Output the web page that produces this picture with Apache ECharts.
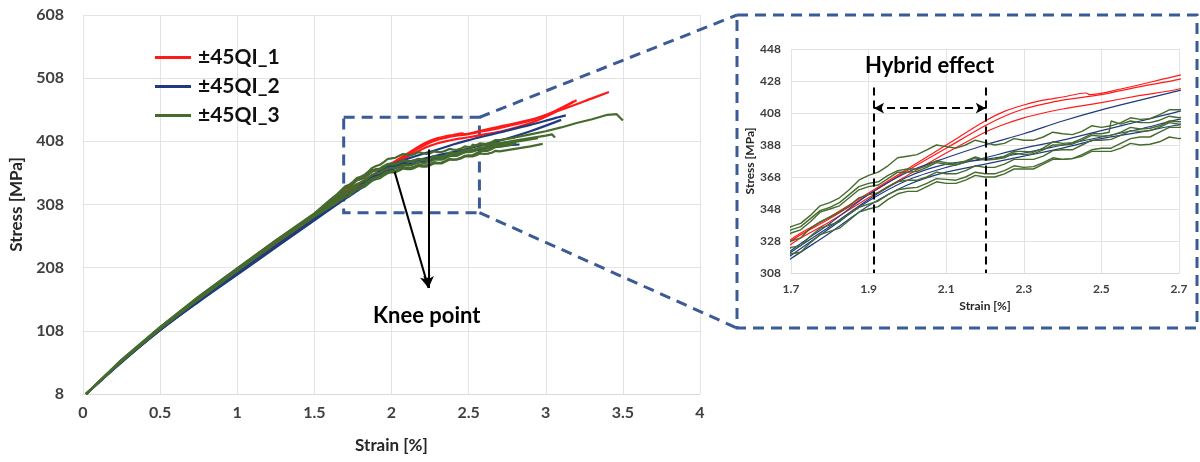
<!DOCTYPE html>
<html>
<head>
<meta charset="utf-8">
<title>Stress - strain</title>
<script src="https://cdn.jsdelivr.net/npm/echarts@6/dist/echarts.min.js"></script>
<style>
  html, body {margin: 0; padding: 0; background: #fff;}
  #chart {width: 1200px; height: 462px;}
</style>
</head>
<body>
<div id="chart"></div>
<script>
var seriesNames = ['±45QI_1', '±45QI_2', '±45QI_3'];
var mainStressTicks = [8, 108, 208, 308, 408, 508, 608];
var zoomStrainTicks = [1.7, 1.9, 2.1, 2.3, 2.5, 2.7];
var zoomStressTicks = [308, 328, 348, 368, 388, 408, 428, 448];

// [strain %, stress MPa] per specimen
var qi1Curves = [
  [[0.02,8],[0.25,60],[0.5,112],[0.75,159],[1.0,203],[1.25,247],[1.5,289],[1.7,329],[1.8,343],[1.9,358],[2.0,373],[2.1,388],[2.2,403],[2.25,409],[2.3,413],[2.35,416],[2.4,418],[2.46,420.5],[2.47,419.5],[2.55,423],[2.7,431.5],[2.9,442],[3.1,458],[3.3,476],[3.41,486]],
  [[0.02,8],[0.25,60],[0.5,111],[0.75,158],[1.0,202],[1.25,246],[1.5,288],[1.7,328],[1.8,342],[1.9,357],[2.0,372],[2.1,386],[2.2,400],[2.25,406],[2.3,410.5],[2.35,413.5],[2.4,416],[2.5,419.5],[2.6,424.5],[2.7,429],[2.9,441],[3.05,455],[3.2,473]],
  [[0.02,8],[0.25,59],[0.5,111],[0.75,158],[1.0,202],[1.25,245],[1.5,287],[1.7,326],[1.8,340],[1.9,355],[2.0,369],[2.1,383],[2.2,396],[2.25,401],[2.3,405],[2.35,408],[2.4,410.5],[2.5,414.5],[2.6,419],[2.7,423],[2.9,437],[3.05,453],[3.18,471]]
];
var qi2Curves = [
  [[0.02,8],[0.25,59],[0.5,110],[0.75,156],[1.0,199],[1.25,242],[1.5,285],[1.7,322],[1.8,339],[1.9,357],[2.0,371],[2.1,380],[2.2,388],[2.3,395],[2.4,403],[2.5,410],[2.6,416],[2.7,422],[2.9,434],[3.05,444],[3.13,449]],
  [[0.02,8],[0.25,59],[0.5,109],[0.75,155],[1.0,198],[1.25,241],[1.5,284],[1.7,319],[1.8,336],[1.9,353],[2.0,366],[2.1,374],[2.2,380],[2.3,386],[2.4,391],[2.5,397],[2.6,403],[2.7,409],[2.9,424],[3.1,442]],
  [[0.02,8],[0.25,58],[0.5,109],[0.75,154],[1.0,197],[1.25,240],[1.5,283],[1.7,317],[1.8,333],[1.9,350],[2.0,363],[2.1,371],[2.2,376],[2.3,381],[2.4,386],[2.5,392],[2.6,396],[2.7,400.5],[2.83,403]],
  [[0.02,8],[0.25,59],[0.5,110],[0.75,156],[1.0,199],[1.25,242],[1.5,285],[1.7,321],[1.8,337],[1.9,354],[2.0,368],[2.1,376],[2.2,379],[2.3,383],[2.4,388],[2.5,393],[2.6,398],[2.7,404],[2.78,407]]
];
var qi3Curves = [
  [[0.02,8],[0.25,62],[0.5,114],[0.75,162],[1.0,207],[1.25,251],[1.5,294],[1.6,315],[1.65,325],[1.7,337],[1.725,339],[1.75,344],[1.775,350],[1.8,352],[1.825,355],[1.85,360],[1.875,366],[1.9,369],[1.925,371],[1.95,375],[1.975,380],[2.0,381],[2.025,382],[2.05,385],[2.075,388],[2.1,387],[2.125,386],[2.15,388],[2.175,391],[2.2,389.5],[2.225,388],[2.25,389],[2.275,392],[2.3,391],[2.325,391],[2.35,393],[2.375,396],[2.4,395],[2.425,394.5],[2.45,396.5],[2.475,400],[2.5,399],[2.525,400],[2.55,402],[2.575,405],[2.6,404],[2.625,404.5],[2.65,407],[2.675,410],[2.7,410],[2.8,414],[2.9,419],[3.0,424],[3.1,430],[3.2,437],[3.3,443],[3.4,450],[3.46,451],[3.5,441]],
  [[0.02,8],[0.25,61],[0.5,113],[0.75,161],[1.0,206],[1.25,250],[1.5,292],[1.6,312],[1.65,321],[1.7,333],[1.725,335],[1.75,340],[1.775,346],[1.8,348],[1.825,350],[1.85,355],[1.875,360],[1.9,362],[1.925,363],[1.95,367],[1.975,371],[2.0,371],[2.025,371.5],[2.05,374],[2.075,377],[2.1,376],[2.125,375.5],[2.15,377.5],[2.175,380],[2.2,379],[2.225,379],[2.25,381],[2.275,384],[2.3,384],[2.325,383.5],[2.35,386],[2.375,390],[2.4,389],[2.425,389.5],[2.45,392],[2.475,395],[2.5,395],[2.52,396],[2.525,403],[2.55,401],[2.575,403],[2.6,402],[2.625,402],[2.65,403.5],[2.675,406],[2.7,405],[2.8,409],[2.9,413],[3.0,417],[3.04,419],[3.06,414]],
  [[0.02,8],[0.25,61],[0.5,112],[0.75,160],[1.0,205],[1.25,249],[1.5,291],[1.6,308],[1.65,317],[1.7,328],[1.725,330],[1.75,336],[1.775,340],[1.8,343],[1.825,346],[1.85,350],[1.875,355],[1.9,357],[1.925,358],[1.95,362],[1.975,365],[2.0,366],[2.025,366],[2.05,368],[2.075,371],[2.1,370],[2.125,370],[2.15,372],[2.175,375],[2.2,374],[2.225,374],[2.25,376],[2.275,379],[2.3,379],[2.325,379],[2.35,381],[2.375,384.5],[2.4,385],[2.425,385],[2.45,388],[2.475,391],[2.5,391],[2.525,391.5],[2.55,394],[2.575,397],[2.6,396.5],[2.625,397],[2.65,399],[2.675,402],[2.7,401],[2.75,403],[2.81,405]],
  [[0.02,8],[0.25,60],[0.5,112],[0.75,159],[1.0,204],[1.25,248],[1.5,290],[1.6,306],[1.65,314],[1.7,324],[1.725,325],[1.75,331],[1.775,336],[1.8,338],[1.825,340],[1.85,345],[1.875,349],[1.9,351],[1.925,353],[1.95,357],[1.975,360],[2.0,361],[2.025,361.5],[2.05,364],[2.075,367],[2.1,366.5],[2.125,366],[2.15,368],[2.175,371],[2.2,370],[2.225,370],[2.25,372],[2.275,375],[2.3,374],[2.325,374.5],[2.35,377],[2.375,380],[2.4,379],[2.425,379.5],[2.45,381],[2.475,384],[2.5,384],[2.525,384],[2.55,386],[2.575,389],[2.6,388],[2.625,388.5],[2.65,390],[2.675,393],[2.7,392],[2.8,396],[2.9,400],[2.98,404]],
  [[0.02,8],[0.25,60],[0.5,111],[0.75,158],[1.0,203],[1.25,247],[1.5,289],[1.6,304],[1.65,312],[1.7,320],[1.725,321],[1.75,327],[1.775,332],[1.8,334],[1.825,336],[1.85,341],[1.875,346],[1.9,348],[1.925,349.5],[1.95,354],[1.975,357.5],[2.0,359],[2.025,359],[2.05,362],[2.075,365],[2.1,364],[2.125,364],[2.15,366],[2.175,369],[2.2,368],[2.225,368],[2.25,370],[2.275,373],[2.3,373],[2.325,373],[2.35,376],[2.375,379],[2.4,379],[2.425,379.5],[2.45,382],[2.475,385],[2.5,386],[2.525,386],[2.55,389],[2.575,392],[2.6,393],[2.625,393],[2.65,396],[2.675,399],[2.7,399],[2.75,401],[2.8,404]],
  [[0.02,8],[0.25,62],[0.5,114],[0.75,162],[1.0,207],[1.25,251],[1.5,293],[1.6,314],[1.65,323],[1.7,335],[1.725,337],[1.75,342],[1.775,347],[1.8,349],[1.825,352],[1.85,357],[1.875,362],[1.9,364],[1.925,365],[1.95,369],[1.975,372],[2.0,373],[2.025,373],[2.05,375],[2.075,378],[2.1,377],[2.125,376.5],[2.15,378],[2.175,380.5],[2.2,378.5],[2.225,379],[2.25,380],[2.275,383],[2.3,382],[2.325,382.5],[2.35,385],[2.375,388],[2.4,388],[2.425,388.5],[2.45,391],[2.475,394],[2.5,393.5],[2.525,394],[2.55,396],[2.575,399],[2.6,398],[2.625,398.5],[2.65,400],[2.675,403],[2.7,402.5],[2.8,407],[2.9,411],[2.95,413]]
];

var colors = ['#ff1a1a', '#1f3a80', '#456b2e'];
var dashBlue = '#3b5a98';
var labelColor = '#404040';
var fontFamily = 'Lato, "Open Sans", sans-serif';

var myChart = echarts.init(document.getElementById('chart'));

function curveSeries(name, curves, color, gridIndex, width, smooth) {
  return curves.map(function (pts) {
    return {
      name: name,
      type: 'line',
      xAxisIndex: gridIndex,
      yAxisIndex: gridIndex,
      data: pts,
      smooth: smooth,
      showSymbol: false,
      clip: true,
      lineStyle: {color: color, width: width},
      itemStyle: {color: color},
      emphasis: {disabled: true}
    };
  });
}

var groups = [qi1Curves, qi2Curves, qi3Curves];
var series = [];
[0, 1].forEach(function (g) {
  groups.forEach(function (curves, i) {
    var w = g === 0 ? 2.2 : (i === 2 ? 1.4 : 1.2);
    var smooth = i === 2 ? false : 0.3;
    series = series.concat(curveSeries(seriesNames[i], curves, colors[i], g, w, smooth));
  });
});

// zoom box + knee arrows on the main chart
series.push({
  type: 'line', xAxisIndex: 0, yAxisIndex: 0, data: [], silent: true,
  markArea: {
    silent: true,
    itemStyle: {color: 'rgba(0,0,0,0)', borderColor: dashBlue, borderWidth: 3, borderType: [11, 7]},
    data: [[{coord: [1.69, 446]}, {coord: [2.57, 295]}]]
  },
  markLine: {
    silent: true,
    symbol: ['none', 'arrow'],
    symbolSize: [8, 12],
    label: {show: false},
    lineStyle: {color: '#000', width: 2, type: 'solid'},
    data: [
      [{coord: [2.02, 360]}, {coord: [2.24, 176]}],
      [{coord: [2.24, 395]}, {coord: [2.24, 176]}]
    ]
  }
});
// hybrid effect markers on the inset
series.push({
  type: 'line', xAxisIndex: 1, yAxisIndex: 1, data: [], silent: true,
  markLine: {
    silent: true,
    symbol: 'none',
    label: {show: false},
    lineStyle: {color: '#000', width: 2, type: [8, 5]},
    data: [
      [{coord: [1.914, 424]}, {coord: [1.914, 308]}],
      [{coord: [2.202, 424]}, {coord: [2.202, 308]}],
      [{coord: [1.914, 411], symbol: 'arrow'}, {coord: [2.202, 411], symbol: 'arrow'}]
    ],
    symbolSize: [8, 10]
  }
});

var gridLine = {show: true, lineStyle: {color: '#e3e3e3', width: 1}};
var option = {
  animation: false,
  backgroundColor: '#fff',
  textStyle: {fontFamily: fontFamily},
  legend: {
    data: seriesNames,
    orient: 'vertical',
    left: 150,
    top: 42,
    itemWidth: 36,
    itemHeight: 3,
    itemGap: 8,
    icon: 'rect',
    textStyle: {fontSize: 21, fontWeight: 'bold', color: '#111', fontFamily: fontFamily, padding: [0, 0, 0, 2]}
  },
  grid: [
    {left: 83, right: 500, top: 15, bottom: 68},
    {left: 791, right: 21, top: 49, bottom: 189}
  ],
  xAxis: [{
    type: 'value', gridIndex: 0, min: 0, max: 4, interval: 0.5,
    name: 'Strain [%]', nameLocation: 'middle', nameGap: 43,
    nameTextStyle: {fontSize: 17, fontWeight: 'bold', color: '#262626'},
    axisLine: {show: true, lineStyle: {color: '#d9d9d9'}},
    axisTick: {show: false},
    axisLabel: {fontSize: 16, fontWeight: 'bold', color: labelColor, margin: 11},
    splitLine: gridLine
  }, {
    type: 'value', gridIndex: 1, min: 1.7, max: 2.7,
    name: 'Strain [%]', nameLocation: 'middle', nameGap: 27,
    nameTextStyle: {fontSize: 12, fontWeight: 'bold', color: '#262626'},
    axisLine: {show: true, lineStyle: {color: '#d9d9d9'}},
    axisTick: {show: false, customValues: zoomStrainTicks},
    axisLabel: {fontSize: 12, fontWeight: 'bold', color: labelColor, margin: 10, customValues: zoomStrainTicks},
    splitLine: gridLine
  }],
  yAxis: [{
    type: 'value', gridIndex: 0, min: 8, max: 608,
    name: 'Stress [MPa]', nameLocation: 'middle', nameGap: 51,
    nameTextStyle: {fontSize: 17, fontWeight: 'bold', color: '#262626'},
    axisLine: {show: false},
    axisTick: {show: false, customValues: mainStressTicks},
    axisLabel: {fontSize: 16, fontWeight: 'bold', color: labelColor, margin: 19, customValues: mainStressTicks},
    splitLine: gridLine
  }, {
    type: 'value', gridIndex: 1, min: 308, max: 448,
    name: 'Stress [MPa]', nameLocation: 'middle', nameGap: 33,
    nameTextStyle: {fontSize: 12, fontWeight: 'bold', color: '#262626'},
    axisLine: {show: false},
    axisTick: {show: false, customValues: zoomStressTicks},
    axisLabel: {fontSize: 12, fontWeight: 'bold', color: labelColor, margin: 10, customValues: zoomStressTicks},
    splitLine: gridLine
  }],
  series: series
};
myChart.setOption(option);

// inset frame, connector lines and the two text notes
function drawNotes() {
  var boxTop = myChart.convertToPixel({xAxisIndex: 0, yAxisIndex: 0}, [2.57, 446]);
  var boxBottom = myChart.convertToPixel({xAxisIndex: 0, yAxisIndex: 0}, [2.57, 295]);
  var frame = {x: 737, y: 15, w: 460, h: 313};
  var dash = {stroke: dashBlue, lineWidth: 3, lineDash: [11, 7], fill: null};
  myChart.setOption({
    graphic: [
      {type: 'rect', shape: {x: frame.x, y: frame.y, width: frame.w, height: frame.h}, style: dash, silent: true},
      {type: 'line', shape: {x1: boxTop[0], y1: boxTop[1], x2: frame.x, y2: frame.y}, style: dash, silent: true},
      {type: 'line', shape: {x1: boxBottom[0], y1: boxBottom[1], x2: frame.x, y2: frame.y + frame.h}, style: dash, silent: true},
      {type: 'text', left: 373, top: 305, style: {text: 'Knee point', fontSize: 22, fontWeight: 'bold', fill: '#000', fontFamily: fontFamily}, silent: true},
      {type: 'text', left: 865, top: 55, style: {text: 'Hybrid effect', fontSize: 22, fontWeight: 'bold', fill: '#000', fontFamily: fontFamily}, silent: true}
    ]
  });
}
drawNotes();
</script>
</body>
</html>
